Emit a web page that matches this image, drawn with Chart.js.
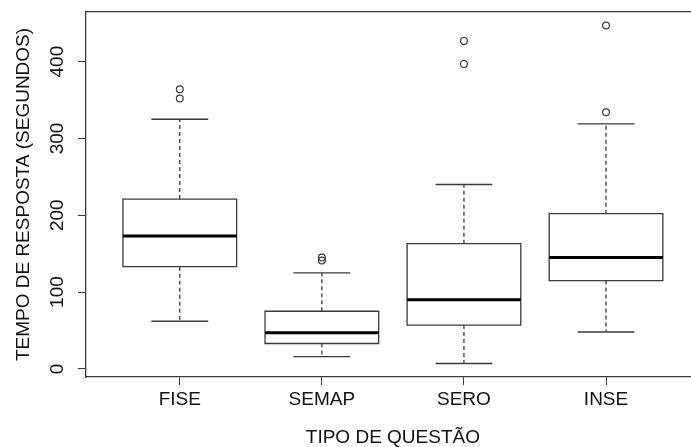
<!DOCTYPE html>
<html>
<head>
<meta charset="utf-8">
<script src="https://cdn.jsdelivr.net/npm/chart.js@4.4.1/dist/chart.umd.min.js"></script>
<style>
    html, body { margin: 0; padding: 0; overflow: hidden; background: #fff; }
    #wrap { position: relative; width: 705px; height: 447px; }
</style>
</head>
<body>
<div id="wrap"><canvas id="boxChart"></canvas></div>
<script>
// Values (seconds)
const categories = ['FISE', 'SEMAP', 'SERO', 'INSE'];
const whiskerLow = [62, 16, 7, 48];
const q1 = [133, 33, 57, 115];
const median = [173, 47, 90, 145];
const q3 = [221, 75, 163, 202];
const whiskerHigh = [325, 125, 240, 319];
const outliers = [[352, 364], [141, 145], [397, 427], [334, 447]];
const yTicks = [0, 100, 200, 300, 400];

const BOX_HALF = 0.4;  // boxwex 0.8
const CAP_HALF = 0.2;  // staple half width
const LINE = '#3a3a3a';
const TEXT = '#111';

Chart.defaults.font.family = '"Liberation Sans", Arial, sans-serif';

// R style axis limits: extend range by 4% each side
const allValues = whiskerLow.concat(whiskerHigh, outliers.flat());
const dataMin = Math.min(...allValues);
const dataMax = Math.max(...allValues);
const yPad = (dataMax - dataMin) * 0.04;
const xPad = categories.length * 0.04;

const boxPts = [];
const medianPts = [];
const whiskerPts = [];
const capPts = [];
const outlierPts = [];

categories.forEach((cat, i) => {
    const c = i + 1;
    boxPts.push(
        { x: c - BOX_HALF, y: q1[i] }, { x: c + BOX_HALF, y: q1[i] },
        { x: c + BOX_HALF, y: q3[i] }, { x: c - BOX_HALF, y: q3[i] },
        { x: c - BOX_HALF, y: q1[i] }, { x: c, y: null }
    );
    medianPts.push({ x: c - BOX_HALF, y: median[i] }, { x: c + BOX_HALF, y: median[i] }, { x: c, y: null });
    whiskerPts.push(
        { x: c, y: q3[i] }, { x: c, y: whiskerHigh[i] }, { x: c, y: null },
        { x: c, y: q1[i] }, { x: c, y: whiskerLow[i] }, { x: c, y: null }
    );
    capPts.push(
        { x: c - CAP_HALF, y: whiskerHigh[i] }, { x: c + CAP_HALF, y: whiskerHigh[i] }, { x: c, y: null },
        { x: c - CAP_HALF, y: whiskerLow[i] }, { x: c + CAP_HALF, y: whiskerLow[i] }, { x: c, y: null }
    );
    outliers[i].forEach(v => outlierPts.push({ x: c, y: v }));
});

const lineSet = (data, extra) => Object.assign({
    data: data,
    showLine: true,
    spanGaps: false,
    pointRadius: 0,
    borderColor: LINE,
    borderWidth: 1.3,
    borderCapStyle: 'square',
    borderJoinStyle: 'miter',
    fill: false
}, extra);

const axisFont = { size: 19, lineHeight: 1 };

new Chart(document.getElementById('boxChart'), {
    type: 'scatter',
    data: {
        datasets: [
            lineSet(medianPts, { borderColor: '#000', borderWidth: 3, borderCapStyle: 'butt' }),
            lineSet(boxPts),
            lineSet(whiskerPts, { borderDash: [4, 3], borderCapStyle: 'butt' }),
            lineSet(capPts, { borderCapStyle: 'butt' }),
            {
                data: outlierPts,
                showLine: false,
                pointStyle: 'circle',
                pointRadius: 3.4,
                pointBorderWidth: 1.2,
                pointBorderColor: LINE,
                pointBackgroundColor: 'rgba(0,0,0,0)'
            }
        ]
    },
    options: {
        responsive: true,
        maintainAspectRatio: false,
        animation: false,
        events: [],
        layout: { padding: { top: 12, right: 2, left: 0, bottom: 0 } },
        plugins: { legend: { display: false }, tooltip: { enabled: false } },
        scales: {
            x: {
                type: 'linear',
                position: 'bottom',
                min: 1 - 0.5 - xPad,
                max: categories.length + 0.5 + xPad,
                afterBuildTicks: s => { s.ticks = categories.map((_, i) => ({ value: i + 1 })); },
                afterFit: s => { s.height = 70; s.paddingLeft = 0; s.paddingRight = 0; },
                grid: { drawOnChartArea: false, drawTicks: true, tickLength: 8, tickColor: LINE },
                border: { color: LINE, width: 1.3 },
                ticks: {
                    autoSkip: false, maxRotation: 0, padding: 5, color: TEXT, font: axisFont,
                    callback: (v, i) => categories[i]
                },
                title: {
                    display: true, text: 'TIPO DE QUESTÃO', color: TEXT, font: axisFont,
                    padding: { top: 0, bottom: 0 }
                }
            },
            y: {
                type: 'linear',
                position: 'left',
                min: dataMin - yPad,
                max: dataMax + yPad,
                afterBuildTicks: s => { s.ticks = yTicks.map(v => ({ value: v })); },
                afterFit: s => { s.width = 86; s.paddingTop = 0; s.paddingBottom = 0; },
                grid: { drawOnChartArea: false, drawTicks: true, tickLength: 8, tickColor: LINE },
                border: { color: LINE, width: 1.3 },
                ticks: {
                    minRotation: 90, maxRotation: 90, crossAlign: 'center', padding: 4,
                    color: TEXT, font: axisFont
                },
                title: {
                    display: true, text: 'TEMPO DE RESPOSTA (SEGUNDOS)', color: TEXT, font: axisFont,
                    padding: { top: 14.5, bottom: 0 }
                }
            },
            // top and right sides of the frame
            xTop: {
                type: 'linear', position: 'top', min: 0, max: 1,
                afterFit: s => { s.height = 0; },
                grid: { display: false }, ticks: { display: false },
                border: { color: LINE, width: 1.3 }
            },
            yRight: {
                type: 'linear', position: 'right', min: 0, max: 1,
                afterFit: s => { s.width = 0; },
                grid: { display: false }, ticks: { display: false },
                border: { color: LINE, width: 1.3 }
            }
        }
    }
});
</script>
</body>
</html>
